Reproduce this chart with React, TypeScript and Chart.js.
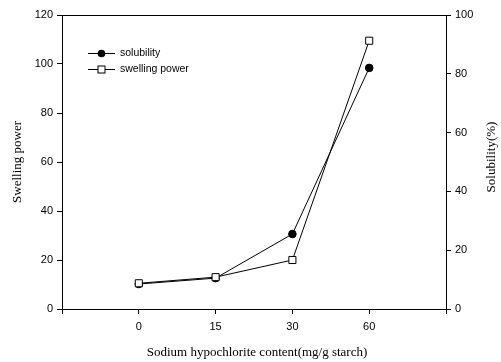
import React, { useEffect, useRef } from "react";
import { Chart, registerables } from "chart.js";

Chart.register(...registerables);

const categories = ["", "0", "15", "30", "60", ""];
const swellingPower = [null, 10.5, 13, 20, 109.5, null];
const solubility = [null, 8.5, 10.5, 25.5, 82, null];
const leftTicks = [0, 20, 40, 60, 80, 100, 120];
const rightTicks = [0, 20, 40, 60, 80, 100];
const xTitle = "Sodium hypochlorite content(mg/g starch)";
const leftTitle = "Swelling power";
const rightTitle = "Solubility(%)";
const legendLabels = ["solubility", "swelling power"];

const SANS = "'Liberation Sans', Arial, sans-serif";
const SERIF = "'Liberation Serif', 'Times New Roman', serif";

const decorPlugin = {
  id: "decor",
  afterDraw(chart: any) {
    const { ctx, chartArea } = chart;
    const { left, right, top } = chartArea;
    ctx.save();
    ctx.strokeStyle = "#000";
    ctx.lineWidth = 1;
    ctx.beginPath();
    ctx.moveTo(left, top + 0.5);
    ctx.lineTo(right, top + 0.5);
    ctx.stroke();

    ctx.fillStyle = "#000";
    ctx.font = `13px ${SERIF}`;
    ctx.textAlign = "center";
    ctx.textBaseline = "middle";
    ctx.fillText(xTitle, 257, 353);

    ctx.save();
    ctx.translate(18, 162);
    ctx.rotate(-Math.PI / 2);
    ctx.fillText(leftTitle, 0, 0);
    ctx.restore();

    ctx.save();
    ctx.translate(492, 157);
    ctx.rotate(-Math.PI / 2);
    ctx.fillText(rightTitle, 0, 0);
    ctx.restore();

    const items = [
      { y: 53, style: "circle" },
      { y: 69, style: "square" },
    ];
    ctx.font = `10.5px ${SANS}`;
    ctx.textAlign = "left";
    items.forEach((it, i) => {
      ctx.beginPath();
      ctx.moveTo(88, it.y + 0.5);
      ctx.lineTo(115, it.y + 0.5);
      ctx.strokeStyle = "#000";
      ctx.lineWidth = 1;
      ctx.stroke();
      if (it.style === "circle") {
        ctx.beginPath();
        ctx.arc(101.5, it.y + 0.5, 3.8, 0, Math.PI * 2);
        ctx.fillStyle = "#000";
        ctx.fill();
      } else {
        ctx.fillStyle = "#fff";
        ctx.fillRect(98, it.y - 3, 7, 7);
        ctx.strokeRect(98, it.y - 3, 7, 7);
      }
      ctx.fillStyle = "#000";
      ctx.fillText(legendLabels[i], 120, it.y + 0.5);
    });
    ctx.restore();
  },
};

export default function App() {
  const ref = useRef<HTMLCanvasElement | null>(null);
  useEffect(() => {
    if (!ref.current) return;
    const chart = new Chart(ref.current, {
      type: "line",
      data: {
        labels: categories,
        datasets: [
          {
            label: "swelling power",
            data: swellingPower,
            yAxisID: "y",
            borderColor: "#000",
            borderWidth: 1,
            backgroundColor: "#fff",
            pointStyle: "rect",
            pointRadius: 5,
            pointBorderWidth: 1,
            pointBorderColor: "#000",
            pointBackgroundColor: "#fff",
            tension: 0,
          },
          {
            label: "solubility",
            data: solubility,
            yAxisID: "y1",
            borderColor: "#000",
            borderWidth: 1,
            backgroundColor: "#000",
            pointStyle: "circle",
            pointRadius: 3.8,
            pointBorderWidth: 1,
            pointBorderColor: "#000",
            pointBackgroundColor: "#000",
            tension: 0,
          },
        ],
      },
      options: {
        responsive: false,
        animation: false,
        maintainAspectRatio: false,
        layout: { padding: { top: 15, left: 0, right: 0, bottom: 0 } },
        plugins: { legend: { display: false }, tooltip: { enabled: false } },
        scales: {
          x: {
            type: "category",
            offset: false,
            afterFit: (s: any) => {
              s.height = 53;
            },
            grid: {
              drawOnChartArea: false,
              drawTicks: true,
              tickLength: 5,
              color: "#000",
            },
            border: { display: true, color: "#000", width: 1 },
            ticks: {
              color: "#000",
              font: { family: SANS, size: 11 },
              padding: 6,
              autoSkip: false,
              maxRotation: 0,
            },
          },
          y: {
            position: "left",
            min: 0,
            max: 120,
            afterFit: (s: any) => {
              s.width = 62;
            },
            afterBuildTicks: (s: any) => {
              s.ticks = leftTicks.map((v) => ({ value: v }));
            },
            grid: {
              drawOnChartArea: false,
              drawTicks: true,
              tickLength: 5,
              color: "#000",
            },
            border: { display: true, color: "#000", width: 1 },
            ticks: {
              color: "#000",
              font: { family: SANS, size: 11 },
              padding: 4,
            },
          },
          y1: {
            position: "right",
            min: 0,
            max: 100,
            afterFit: (s: any) => {
              s.width = 55;
            },
            afterBuildTicks: (s: any) => {
              s.ticks = rightTicks.map((v) => ({ value: v }));
            },
            grid: {
              drawOnChartArea: false,
              drawTicks: true,
              tickLength: 5,
              color: "#000",
            },
            border: { display: true, color: "#000", width: 1 },
            ticks: {
              color: "#000",
              font: { family: SANS, size: 11 },
              padding: 4,
            },
          },
        },
      },
      plugins: [decorPlugin],
    });
    return () => chart.destroy();
  }, []);
  return (
    <div style={{ position: "absolute", left: 0, top: 0, width: 501, height: 362, background: "#fff" }}>
      <canvas ref={ref} width={501} height={362} style={{ display: "block" }} />
    </div>
  );
}
